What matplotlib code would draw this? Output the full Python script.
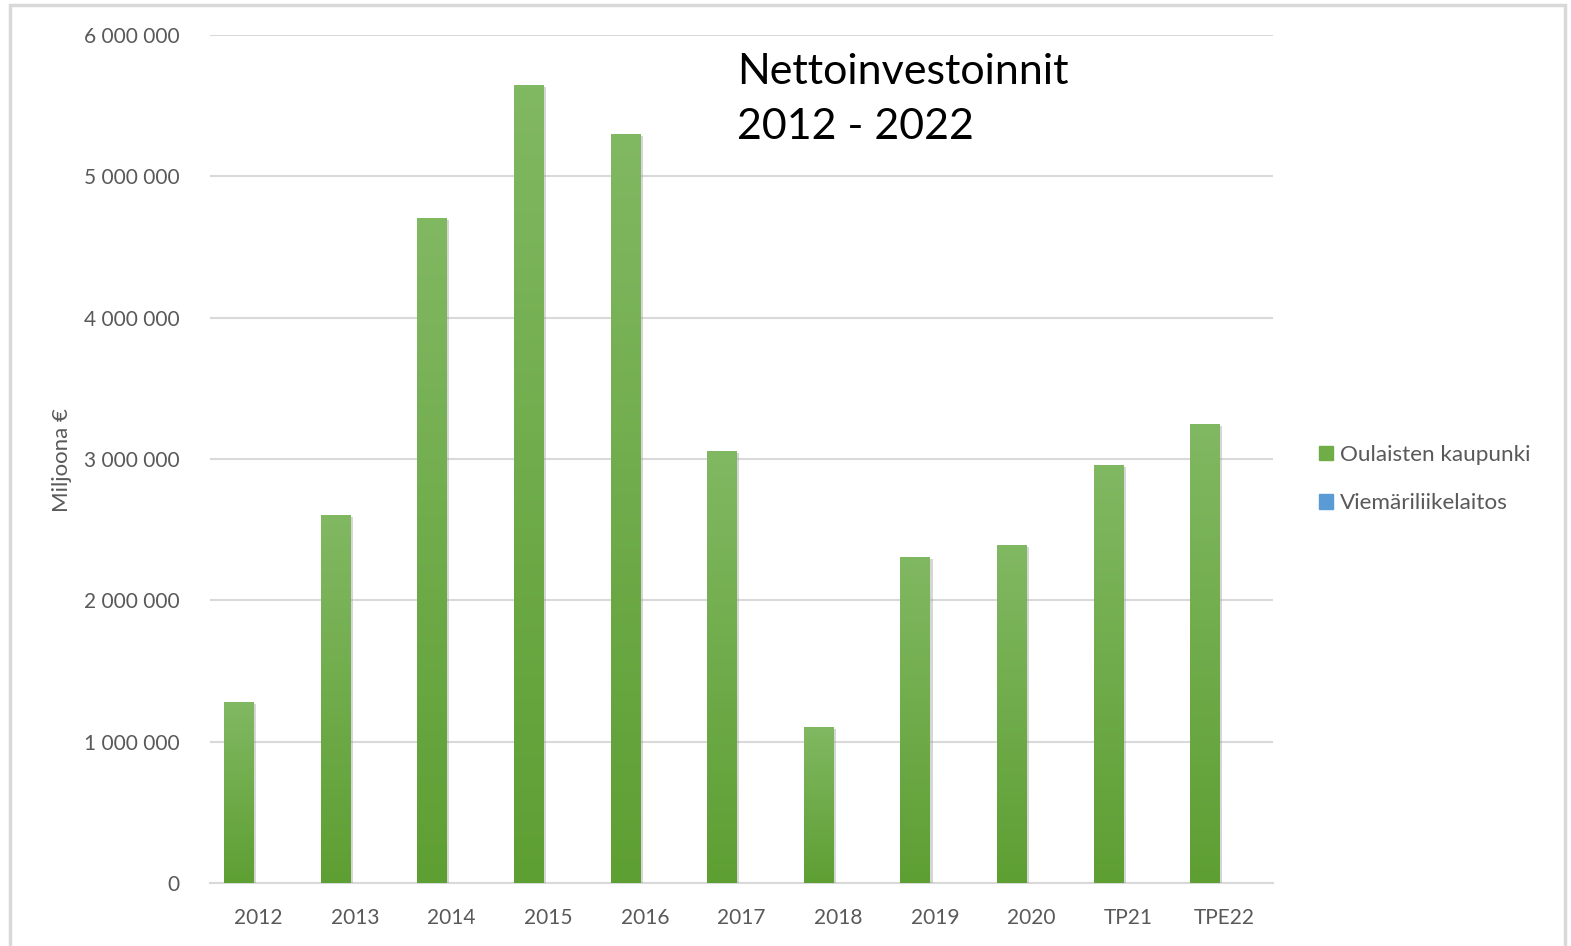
import matplotlib
matplotlib.use("Agg")
import matplotlib.pyplot as plt
import numpy as np
from matplotlib.patches import Rectangle
from matplotlib.colors import LinearSegmentedColormap
import matplotlib.patheffects as pe

categories = ["2012", "2013", "2014", "2015", "2016", "2017", "2018", "2019", "2020", "TP21", "TPE22"]
oulainen = [1280000, 2605000, 4705000, 5645000, 5300000, 3057000, 1104000, 2307000, 2392000, 2958000, 3248000]
viemari = [0, 0, 0, 0, 0, 0, 0, 0, 0, 0, 0]
yticks = [0, 1000000, 2000000, 3000000, 4000000, 5000000, 6000000]
ytick_labels = ["0", "1 000 000", "2 000 000", "3 000 000", "4 000 000", "5 000 000", "6 000 000"]

plt.rcParams['font.family'] = ['Lato', 'DejaVu Sans']

fig = plt.figure(figsize=(15.71, 9.46), dpi=100)
ax = fig.add_axes([210/1571, 1-883/946, (1273-210)/1571, (883-35)/946])

x = np.arange(len(categories))
bw = 0.31
off = 0.2
bars = ax.bar(x - off, oulainen, width=bw, color="#70ad47", label="Oulaisten kaupunki", zorder=3,
              path_effects=[pe.SimplePatchShadow(offset=(1.5, -1.5), shadow_rgbFace="#999999", alpha=0.4), pe.Normal()])
ax.bar(x + off, viemari, width=bw, color="#5b9bd5", label="Viemäriliikelaitos", zorder=3)

cmap = LinearSegmentedColormap.from_list("g", ["#5e9f33", "#81b862"])
grad = np.linspace(0, 1, 256).reshape(-1, 1)
for b in bars:
    bx, by = b.get_x(), b.get_y()
    w, h = b.get_width(), b.get_height()
    im = ax.imshow(grad, extent=[bx, bx + w, by, by + h], origin="lower", cmap=cmap,
                   aspect="auto", zorder=4)
    im.set_clip_path(b)

ax.set_xlim(-0.5, len(categories) - 0.5)
ax.set_ylim(0, 6000000)
ax.set_yticks(yticks)
ax.set_yticklabels(ytick_labels)
ax.set_xticks(x)
ax.set_xticklabels(categories)
ax.tick_params(axis="both", length=0, labelsize=15, colors="#595959")
ax.tick_params(axis="y", pad=22)
ax.tick_params(axis="x", pad=18)
ax.grid(axis="y", color="#d9d9d9", linewidth=1.5, zorder=0)
ax.set_axisbelow(True)
for s in ["top", "right", "left"]:
    ax.spines[s].set_visible(False)
ax.spines["bottom"].set_color("#d9d9d9")
ax.spines["bottom"].set_linewidth(1.5)

fig.text(62/1571, 1-460/946, "Miljoona €", rotation=90, ha="center", va="center",
         fontsize=16, color="#595959")

fig.text(737/1571, 1-53/946, "Nettoinvestoinnit\n2012 - 2022", ha="left", va="top",
         fontsize=31, color="#000000", linespacing=1.55)

leg = fig.legend(handles=[Rectangle((0, 0), 1, 1, color="#70ad47"), Rectangle((0, 0), 1, 1, color="#5b9bd5")],
                 labels=["Oulaisten kaupunki", "Viemäriliikelaitos"],
                 loc="upper left", bbox_to_anchor=(1299/1571, 1-425/946), frameon=False,
                 fontsize=16.2, labelcolor="#595959", handlelength=0.6, handleheight=0.6,
                 handletextpad=0.3, labelspacing=1.25)

fig.patches.append(Rectangle((10/1571, -0.05), (1565-10)/1571, 1.05 - 5/946, transform=fig.transFigure,
                             fill=False, edgecolor="#d9d9d9", linewidth=2.5))

fig.savefig("out.png", dpi=100)
